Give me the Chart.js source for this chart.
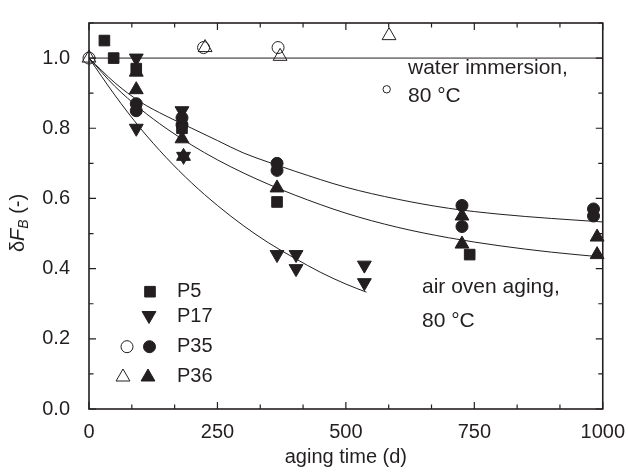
<!DOCTYPE html>
<html><head><meta charset="utf-8">
<script src="https://cdn.jsdelivr.net/npm/chart.js@4.4.0/dist/chart.umd.min.js"></script>
<style>html,body{margin:0;padding:0;background:#fff;}#wrap{width:628px;height:474px;}</style>
</head><body><div id="wrap"><canvas id="c" width="628" height="474"></canvas></div>
<script>
// ---------- data ----------
const xTicks = [0, 250, 500, 750, 1000];
const yTicks = [0.0, 0.2, 0.4, 0.6, 0.8, 1.0];

// air oven aging, filled symbols
const p5Days  = [30, 48, 92, 181, 366, 741];
const p5Vals  = [1.05, 1.0, 0.97, 0.80, 0.59, 0.44];
const p17Days = [92, 92, 181, 184, 366, 403, 403, 536, 536];
const p17Vals = [1.0, 0.80, 0.85, 0.72, 0.44, 0.44, 0.40, 0.41, 0.36];
const p35Days = [92, 92, 181, 181, 366, 366, 726, 726, 982, 982];
const p35Vals = [0.87, 0.85, 0.83, 0.81, 0.70, 0.68, 0.58, 0.52, 0.57, 0.55];
const p36Days = [92, 92, 181, 184, 366, 726, 726, 989, 989];
const p36Vals = [0.96, 0.91, 0.77, 0.72, 0.63, 0.55, 0.47, 0.49, 0.44];

// water immersion, open symbols
const p35wDays = [0, 223, 368];
const p35wVals = [1.0, 1.03, 1.03];
const p36wDays = [0, 226, 372, 584];
const p36wVals = [1.0, 1.03, 1.005, 1.064];

// fitted curves
const fitDays    = [0, 50, 100, 150, 200, 250, 300, 350, 400, 500, 600, 700, 800, 900, 1000];
const fitUpper   = [1.0, 0.93, 0.875, 0.835, 0.80, 0.765, 0.73, 0.703, 0.678, 0.632, 0.598, 0.572, 0.555, 0.543, 0.533];
const fitMiddle  = [1.0, 0.92, 0.855, 0.80, 0.752, 0.71, 0.673, 0.64, 0.61, 0.558, 0.518, 0.488, 0.465, 0.447, 0.433];
const fitLowDays = [0, 50, 100, 150, 200, 250, 300, 350, 400, 450, 500, 540];
const fitLower   = [1.0, 0.895, 0.80, 0.717, 0.644, 0.58, 0.523, 0.473, 0.43, 0.39, 0.356, 0.333];
const waterDays  = [0, 1000];
const waterVals  = [1.0, 1.0];

const legendRows = ['P5', 'P17', 'P35', 'P36'];
const notes = { water: ['water immersion,', '80 \u00B0C'], air: ['air oven aging,', '80 \u00B0C'] };

// ---------- helpers ----------
const pts = (xs, ys) => xs.map((x, i) => ({ x: x, y: ys[i] }));
const INK = '#231f20';
const FONT = '"Liberation Sans", Arial, Helvetica, sans-serif';

function marker(label, xs, ys, style, rot, open, r) {
  return {
    label: label, data: pts(xs, ys), showLine: false,
    pointStyle: style, pointRotation: rot, pointRadius: r, pointHoverRadius: r,
    backgroundColor: open ? 'rgba(255,255,255,0)' : INK, borderColor: INK, borderWidth: 1,
    clip: false
  };
}
function curve(label, xs, ys) {
  return {
    label: label, data: pts(xs, ys), showLine: true, pointRadius: 0,
    borderColor: INK, borderWidth: 1, cubicInterpolationMode: 'monotone', fill: false
  };
}

const framePlugin = {
  id: 'frame',
  beforeDatasetsDraw(chart) {
    const { ctx, chartArea: a, scales: { x, y } } = chart;
    ctx.save();
    ctx.strokeStyle = INK; ctx.lineWidth = 1.6;
    ctx.strokeRect(a.left, a.top, a.right - a.left, a.bottom - a.top);
    ctx.lineWidth = 1.2;
    const xStep = (xTicks[1] - xTicks[0]) / 3;
    for (let v = xTicks[0]; v <= xTicks[xTicks.length - 1] + 1e-6; v += xStep) {
      const major = Math.abs(Math.round(v / 250) * 250 - v) < 1e-6;
      const len = major ? 7 : 4.5;
      const px = x.getPixelForValue(v);
      ctx.beginPath();
      ctx.moveTo(px, a.bottom); ctx.lineTo(px, a.bottom - len);
      ctx.moveTo(px, a.top); ctx.lineTo(px, a.top + len);
      ctx.stroke();
    }
    for (let k = 0; k <= 11; k++) {
      const v = k / 10;
      const major = k % 2 === 0;
      const len = major ? 7 : 4.5;
      const py = y.getPixelForValue(v);
      ctx.beginPath();
      ctx.moveTo(a.left, py); ctx.lineTo(a.left + len, py);
      ctx.moveTo(a.right, py); ctx.lineTo(a.right - len, py);
      ctx.stroke();
    }
    ctx.restore();
  },
  afterDraw(chart) {
    const { ctx } = chart;
    const H = Chart.helpers;
    ctx.save();
    ctx.fillStyle = INK; ctx.strokeStyle = INK;
    // y-axis title: δF_B (-)
    ctx.translate(24, 223); ctx.rotate(-Math.PI / 2);
    const parts = [
      { t: '\u03B4', f: '20px ' + FONT, dy: 0 },
      { t: 'F', f: 'italic 20px ' + FONT, dy: 0 },
      { t: 'B', f: 'italic 14px ' + FONT, dy: 4 },
      { t: ' (-)', f: '20px ' + FONT, dy: 0 }
    ];
    let w = 0;
    parts.forEach(p => { ctx.font = p.f; p.w = ctx.measureText(p.t).width; w += p.w; });
    let cx = -w / 2;
    ctx.textBaseline = 'alphabetic'; ctx.textAlign = 'left';
    parts.forEach(p => { ctx.font = p.f; ctx.fillText(p.t, cx, p.dy); cx += p.w; });
    ctx.setTransform(1, 0, 0, 1, 0, 0);

    // annotations
    ctx.font = '21px ' + FONT; ctx.textAlign = 'left'; ctx.textBaseline = 'alphabetic';
    ctx.fillText(notes.water[0], 408, 73.5);
    ctx.fillText(notes.water[1], 408, 101.5);
    ctx.fillText(notes.air[0], 422, 293);
    ctx.fillText(notes.air[1], 422, 326.5);
    ctx.lineWidth = 1;
    ctx.beginPath(); ctx.arc(386.7, 89.3, 3.7, 0, Math.PI * 2); ctx.stroke();

    // legend
    const drawM = (style, rot, open, r, px, py) => {
      ctx.fillStyle = open ? 'rgba(255,255,255,0)' : INK; ctx.strokeStyle = INK; ctx.lineWidth = 1;
      H.drawPoint(ctx, { pointStyle: style, rotation: rot, radius: r, borderWidth: 1 }, px, py);
    };
    drawM('rect', 0, false, 7.5, 150, 291.7);
    drawM('triangle', 180, false, 8, 149, 315.5);
    drawM('circle', 0, true, 6, 127, 346.7);
    drawM('circle', 0, false, 6, 149.5, 346.7);
    drawM('triangle', 0, true, 8, 123, 377);
    drawM('triangle', 0, false, 8, 148, 377);
    ctx.fillStyle = INK; ctx.font = '20px ' + FONT; ctx.textBaseline = 'middle';
    const ly = [291.7, 316.7, 346.7, 376];
    legendRows.forEach((t, i) => ctx.fillText(t, 177, ly[i]));
    ctx.restore();
  }
};

new Chart(document.getElementById('c'), {
  type: 'scatter',
  data: {
    datasets: [
      marker('P36 water', p36wDays, p36wVals, 'triangle', 0, true, 8),
      marker('P35 water', p35wDays, p35wVals, 'circle', 0, true, 6),
      marker('P5', p5Days, p5Vals, 'rect', 0, false, 7.5),
      marker('P17', p17Days, p17Vals, 'triangle', 180, false, 8),
      marker('P35', p35Days, p35Vals, 'circle', 0, false, 6),
      marker('P36', p36Days, p36Vals, 'triangle', 0, false, 8),
      curve('fit upper', fitDays, fitUpper),
      curve('fit middle', fitDays, fitMiddle),
      curve('fit lower', fitLowDays, fitLower),
      curve('water', waterDays, waterVals)
    ]
  },
  options: {
    responsive: false, animation: false, devicePixelRatio: 1,
    layout: { padding: { top: 9, right: 22, left: 0, bottom: 0 } },
    plugins: { legend: { display: false }, tooltip: { enabled: false } },
    scales: {
      x: {
        type: 'linear', min: 0, max: 1000,
        afterBuildTicks: s => { s.ticks = xTicks.map(v => ({ value: v })); },
        afterFit: s => { s.height = 65; },
        grid: { display: false }, border: { display: false },
        ticks: { padding: 3, color: INK, font: { family: FONT, size: 20 }, maxRotation: 0, callback: v => String(v) },
        title: { display: true, text: 'aging time (d)', color: INK, font: { family: FONT, size: 20 }, padding: { top: 0, bottom: 5 } }
      },
      y: {
        type: 'linear', min: 0, max: 1.1,
        afterBuildTicks: s => { s.ticks = yTicks.map(v => ({ value: v })); },
        afterFit: s => { s.width = 89; },
        grid: { display: false }, border: { display: false },
        ticks: { padding: 11, color: INK, font: { family: FONT, size: 20 }, callback: v => Number(v).toFixed(1) }
      }
    }
  },
  plugins: [framePlugin]
});
</script></body></html>
